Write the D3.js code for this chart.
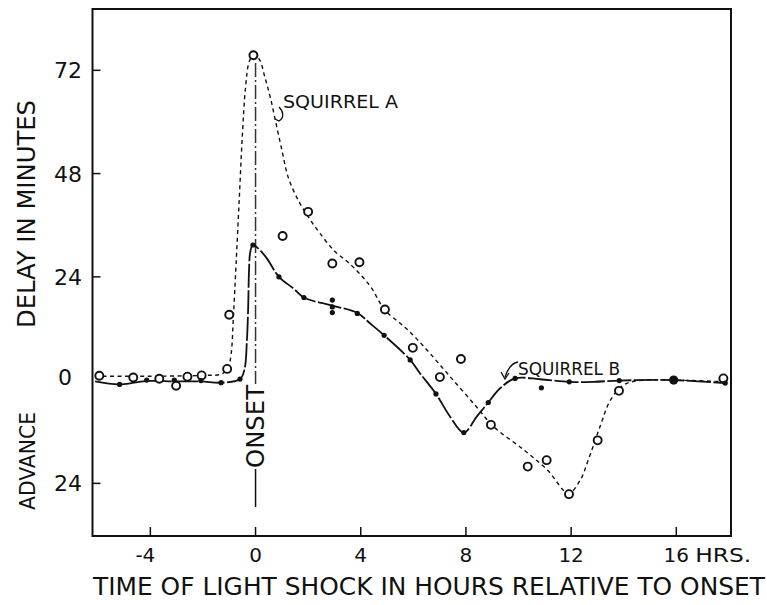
<!DOCTYPE html>
<html>
<head>
<meta charset="utf-8">
<script src="https://cdn.jsdelivr.net/npm/d3@7"></script>
<style>
  html, body { margin: 0; padding: 0; background: #fff; }
  svg { display: block; }
  text { font-family: "DejaVu Sans", "Liberation Sans", sans-serif; fill: #111; }
</style>
</head>
<body>
<svg id="chart" width="767" height="605"></svg>
<script>
// ---------- data ----------
const xTicks = [-4, 0, 4, 8, 12, 16];
const xTickLabels = ["-4", "0", "4", "8", "12", "16"];
const yTicks = [72, 48, 24, -24];
const yTickLabels = ["72", "48", "24", "24"];
const zeroLabel = "0";

// Squirrel A (open circles): hours, delay (minutes; negative = advance)
const aHours  = [-5.94, -4.65, -3.66, -3.02, -2.59, -2.05, -1.08, -1.0, -0.08, 1.03, 2.0, 2.92, 3.95, 4.92, 5.98, 7.01, 7.81, 8.95, 10.35, 11.07, 11.92, 13.01, 13.82, 17.79];
const aValues = [1.0, 0.6, 0.3, -1.3, 0.8, 1.1, 2.6, 15.2, 75.5, 33.5, 39.1, 27.1, 27.4, 16.4, 7.5, 0.7, 4.9, -10.4, -20.1, -18.6, -26.5, -14.0, -2.5, 0.4];

// Squirrel B (filled dots)
const bHours  = [-5.17, -4.14, -3.09, -2.08, -1.31, -0.59, -0.1, 0.89, 1.84, 2.92, 2.92, 2.92, 3.87, 4.89, 5.88, 6.86, 7.92, 8.85, 9.87, 10.87, 11.93, 13.83, 17.86];
const bValues = [-1.0, 0.0, 0.0, -0.1, -0.6, 0.25, 31.4, 24.0, 19.2, 18.6, 17.0, 15.7, 15.5, 10.4, 4.7, -3.2, -12.2, -5.2, 0.4, -1.8, -0.4, -0.1, -0.7];

// point where both squirrels coincide (drawn as a large dot)
const sharedHours = [15.9];
const sharedValues = [0];

// hand-drawn fitted curves
const aCurveHours  = [-6.1, -4, -2, -1.3, -1.05, -0.93, -0.84, -0.74, -0.62, -0.5, -0.38, -0.24, -0.07, 0.15, 0.35, 0.55, 0.75, 1.0, 1.25, 1.65, 2.0, 2.45, 3.0, 3.5, 3.95, 4.4, 4.9, 5.5, 5.9, 6.4, 7.4, 8.4, 9.05, 10.2, 11.1, 11.9, 12.35, 12.65, 13.1, 13.5, 14.0, 14.6, 15.9, 17.9];
const aCurveValues = [0.9, 0.9, 1.1, 1.4, 2.8, 6, 15, 27, 42, 57, 68, 74, 75.6, 74.5, 70.5, 66, 60.5, 53.5, 47, 41.5, 38, 34.1, 30, 27.5, 24.8, 21.5, 16.4, 13.2, 11, 7.8, 0.8, -6.2, -10.8, -16.2, -20.9, -26.3, -23.2, -18.6, -10.8, -4.6, -1.1, -0.1, 0, -0.4];

const bCurveHours  = [-6.1, -5.17, -4.14, -3.09, -2.08, -1.31, -0.59, -0.42, -0.33, -0.28, -0.25, -0.2, -0.1, 0.17, 0.43, 0.89, 1.44, 1.84, 2.92, 3.87, 4.35, 4.89, 5.88, 6.25, 6.86, 7.4, 7.92, 8.41, 8.85, 9.3, 9.87, 10.82, 11.93, 12.84, 13.83, 15.9, 17.86];
const bCurveValues = [-0.3, -1.0, -0.2, -0.3, -0.3, -0.6, 0.25, 2.5, 9, 17, 25, 29.8, 31.4, 30.2, 28.3, 24.0, 21.3, 19.2, 17.3, 15.6, 13.2, 10.4, 4.7, 1.6, -3.2, -8.5, -12.2, -8.5, -5.2, -1.9, 0.4, 0.2, -0.4, -0.4, -0.1, 0, -0.7];

// ---------- layout ----------
const svg = d3.select("#chart");
const L = 92.5, R = 731, T = 9, B = 536;
const x = d3.scaleLinear().domain([-6.2, 18.08]).range([L, R]);
const y = d3.scaleLinear().domain([-36.23, 86.25]).range([B, T]);
const ink = "#111";

// frame
svg.append("rect").attr("x", L).attr("y", T).attr("width", R - L).attr("height", B - T)
  .attr("fill", "none").attr("stroke", ink).attr("stroke-width", 2);

// x ticks (inward) + labels
const xAxis = svg.append("g");
xAxis.selectAll("line").data(xTicks).join("line")
  .attr("x1", d => x(d)).attr("x2", d => x(d))
  .attr("y1", B).attr("y2", B - 9)
  .attr("stroke", ink).attr("stroke-width", 1.5);
xAxis.selectAll("text").data(xTicks).join("text")
  .attr("x", d => x(d)).attr("y", 562)
  .attr("text-anchor", "middle")
  .attr("font-size", 20)
  .text((d, i) => xTickLabels[i])
  .attr("dx", d => d < 0 ? -5 : 0);
svg.append("text").attr("x", x(16) + 19).attr("y", 562).attr("font-size", 20)
  .attr("textLength", 56).attr("lengthAdjust", "spacingAndGlyphs").text("HRS.");

// y ticks (inward) + labels
const yAxis = svg.append("g");
yAxis.selectAll("line").data(yTicks).join("line")
  .attr("x1", L).attr("x2", L + 8)
  .attr("y1", d => y(d)).attr("y2", d => y(d))
  .attr("stroke", ink).attr("stroke-width", 1.5);
yAxis.selectAll("text").data(yTicks).join("text")
  .attr("x", 82).attr("y", d => y(d) + 8)
  .attr("text-anchor", "end")
  .attr("font-size", 22)
  .text((d, i) => yTickLabels[i]);
svg.append("text").attr("x", 65).attr("y", y(0) + 5).attr("text-anchor", "middle")
  .attr("font-size", 22).text(zeroLabel);

// axis titles
svg.append("text").attr("transform", "translate(35,214) rotate(-90)")
  .attr("text-anchor", "middle").attr("font-size", 24)
  .attr("textLength", 228).attr("lengthAdjust", "spacingAndGlyphs")
  .text("DELAY IN MINUTES");
svg.append("text").attr("transform", "translate(35,461) rotate(-90)")
  .attr("text-anchor", "middle").attr("font-size", 22)
  .attr("textLength", 98).attr("lengthAdjust", "spacingAndGlyphs")
  .text("ADVANCE");
svg.append("text").attr("x", 93).attr("y", 595).attr("font-size", 24)
  .attr("textLength", 672).attr("lengthAdjust", "spacingAndGlyphs")
  .text("TIME OF LIGHT SHOCK IN HOURS RELATIVE TO ONSET");

// onset line and label
svg.append("line").attr("x1", x(0)).attr("x2", x(0)).attr("y1", 63).attr("y2", 384)
  .attr("stroke", "#333").attr("stroke-width", 1.5).attr("stroke-dasharray", "14,3,2,3");
svg.append("line").attr("x1", x(0)).attr("x2", x(0)).attr("y1", 469).attr("y2", 507)
  .attr("stroke", ink).attr("stroke-width", 1.5);
svg.append("text").attr("transform", `translate(${x(0) + 8.5},426.5) rotate(-90)`)
  .attr("text-anchor", "middle").attr("font-size", 24)
  .attr("textLength", 83).attr("lengthAdjust", "spacingAndGlyphs")
  .text("ONSET");

// curves
const line = d3.line().x(d => x(d[0])).y(d => y(d[1])).curve(d3.curveCatmullRom.alpha(0.5));
const aCurve = aCurveHours.map((h, i) => [h, aCurveValues[i]]);
const bCurve = bCurveHours.map((h, i) => [h, bCurveValues[i]]);
svg.append("path").attr("d", line(aCurve)).attr("fill", "none")
  .attr("stroke", ink).attr("stroke-width", 1.4).attr("stroke-dasharray", "4,3.5");
svg.append("path").attr("d", line(bCurve)).attr("fill", "none")
  .attr("stroke", ink).attr("stroke-width", 1.8).attr("stroke-dasharray", "24,2.5");

// points
svg.append("g").selectAll("circle").data(aHours).join("circle")
  .attr("cx", d => x(d)).attr("cy", (d, i) => y(aValues[i])).attr("r", 4)
  .attr("fill", "#fff").attr("stroke", ink).attr("stroke-width", 1.9);
svg.append("g").selectAll("circle").data(bHours).join("circle")
  .attr("cx", d => x(d)).attr("cy", (d, i) => y(bValues[i])).attr("r", 2.6)
  .attr("fill", ink);
svg.append("g").selectAll("circle").data(sharedHours).join("circle")
  .attr("cx", d => x(d)).attr("cy", (d, i) => y(sharedValues[i])).attr("r", 4.6)
  .attr("fill", ink);

// labels
svg.append("text").attr("x", 283).attr("y", 108).attr("font-size", 18)
  .attr("textLength", 115).attr("lengthAdjust", "spacingAndGlyphs").text("SQUIRREL  A");
svg.append("path").attr("d", "M279,107 C284,112 284,118 279,121 L275,119")
  .attr("fill", "none").attr("stroke", ink).attr("stroke-width", 1.3);
svg.append("text").attr("x", 518).attr("y", 375).attr("font-size", 18)
  .attr("textLength", 102).attr("lengthAdjust", "spacingAndGlyphs").text("SQUIRREL B");
svg.append("path").attr("d", "M518,362 C512,363 508,368 505,377")
  .attr("fill", "none").attr("stroke", ink).attr("stroke-width", 1.3);
svg.append("path").attr("d", "M501,372 L505,379 L509,373")
  .attr("fill", "none").attr("stroke", ink).attr("stroke-width", 1.3);
</script>
</body>
</html>
